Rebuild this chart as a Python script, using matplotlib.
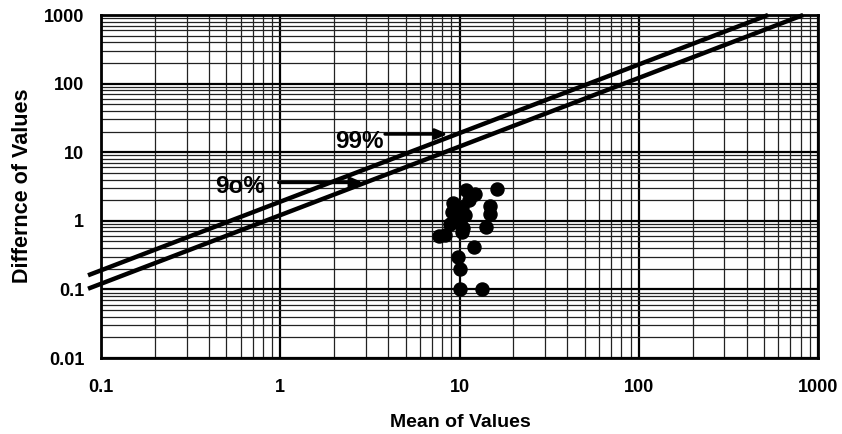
import matplotlib
matplotlib.use("Agg")
import matplotlib.pyplot as plt
from matplotlib.ticker import LogLocator, NullFormatter, FixedLocator, FixedFormatter
import numpy as np

plt.rcParams['font.family'] = ['Liberation Sans', 'DejaVu Sans']
plt.rcParams['font.weight'] = 'bold'

# Measured pairs: mean of the two values and their difference
mean_values = [7.7, 8.3, 8.85, 9.04, 9.24, 9.5, 9.8, 10.07, 10.3, 10.5, 10.7,
               10.9, 11.3, 10.3, 12.2, 14.0, 14.8, 14.8, 16.1, 12.05, 9.76,
               10.07, 10.07, 13.4]
diff_values = [0.6, 0.62, 0.9, 1.36, 1.8, 1.5, 0.97, 1.0, 0.69, 0.78, 1.22,
               2.8, 2.0, 1.6, 2.5, 0.82, 1.65, 1.25, 2.9, 0.41, 0.3,
               0.2, 0.1, 0.1]

# Critical difference limits (difference proportional to mean)
limit_labels = ['99%', '9o%']
limit_slopes = [1.9, 1.21]

x_ticks = [0.1, 1, 10, 100, 1000]
x_tick_labels = ['0.1', '1', '10', '100', '1000']
y_ticks = [0.01, 0.1, 1, 10, 100, 1000]
y_tick_labels = ['0.01', '0.1', '1', '10', '100', '1000']

fig = plt.figure(figsize=(8.42, 4.34), dpi=100)
ax = fig.add_axes([0.12, 0.175, 0.8515, 0.7904])
ax.set_xscale('log')
ax.set_yscale('log')
ax.set_xlim(0.1, 1000)
ax.set_ylim(0.01, 1000)

ax.xaxis.set_major_locator(FixedLocator(x_ticks))
ax.xaxis.set_major_formatter(FixedFormatter(x_tick_labels))
ax.yaxis.set_major_locator(FixedLocator(y_ticks))
ax.yaxis.set_major_formatter(FixedFormatter(y_tick_labels))
ax.xaxis.set_minor_locator(LogLocator(base=10, subs=np.arange(2, 10), numticks=20))
ax.yaxis.set_minor_locator(LogLocator(base=10, subs=np.arange(2, 10), numticks=20))
ax.xaxis.set_minor_formatter(NullFormatter())
ax.yaxis.set_minor_formatter(NullFormatter())

ax.grid(True, which='major', color='black', lw=1.6)
ax.grid(True, which='minor', color='#222222', lw=0.9)
ax.set_axisbelow(True)

ax.tick_params(which='both', length=0)
ax.tick_params(axis='x', which='major', pad=15, labelsize=13)
ax.tick_params(axis='y', which='major', pad=12, labelsize=13)
for lab in ax.get_xticklabels() + ax.get_yticklabels():
    lab.set_fontweight('bold')

for sp in ax.spines.values():
    sp.set_linewidth(2.0)
    sp.set_color('black')

# Limit lines, running a little past the left spine
x_start = 0.0846
for k in limit_slopes:
    xs = np.array([x_start, 1000.0 / k])
    ax.plot(xs, k * xs, color='black', lw=3.2, clip_on=False,
            solid_capstyle='butt', zorder=3)

ax.plot(mean_values, diff_values, 'o', color='black', ms=9.4, zorder=4)

arrow_kw = dict(arrowstyle='-|>,head_length=0.7,head_width=0.3',
                color='black', lw=2.4, shrinkA=0, shrinkB=0)
ax.annotate('', xy=(8.6, 18.4), xytext=(3.84, 18.4), arrowprops=arrow_kw, zorder=5)
ax.annotate('', xy=(2.9, 3.62), xytext=(0.98, 3.62), arrowprops=arrow_kw, zorder=5)
ax.text(2.02, 14.5, limit_labels[0], fontsize=17.5, fontweight='bold',
        ha='left', va='center', zorder=5)
ax.text(0.433, 3.16, limit_labels[1], fontsize=17.5, fontweight='bold',
        ha='left', va='center', zorder=5)

ax.set_xlabel('Mean of Values', fontsize=14, fontweight='bold')
ax.set_ylabel('Differnce of Values', fontsize=15.5, fontweight='bold')
ax.xaxis.set_label_coords(0.501, -0.187)
ax.xaxis.label.set_va('center')
ax.yaxis.set_label_coords(-0.11, 0.502)
ax.yaxis.label.set_va('center')

fig.savefig('out.png', dpi=100)
